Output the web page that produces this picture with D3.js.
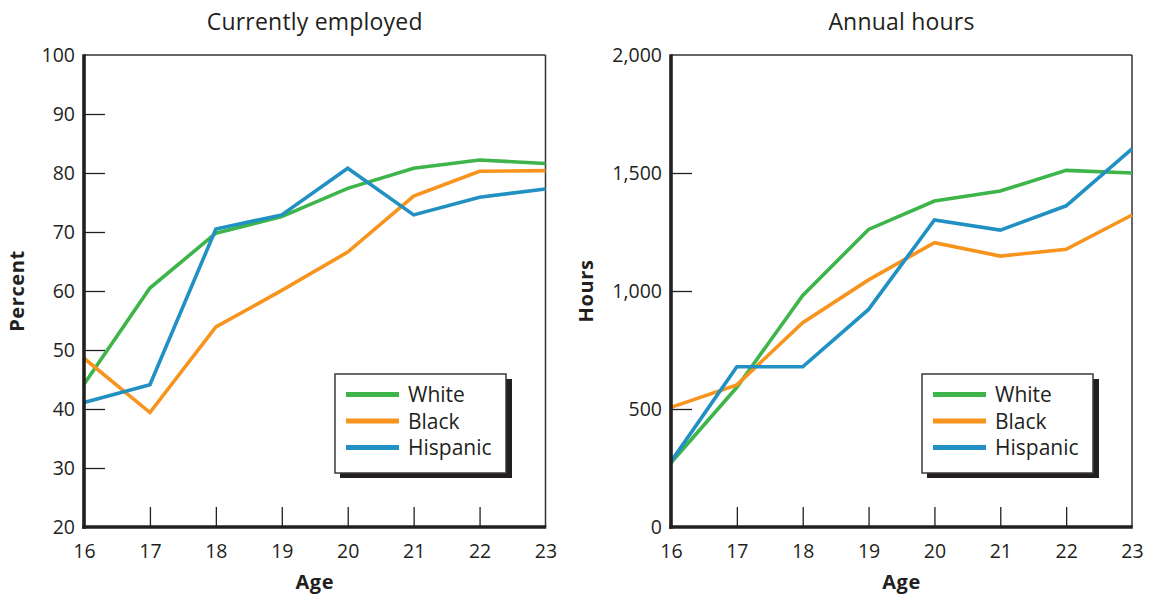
<!DOCTYPE html>
<html>
<head>
<meta charset="utf-8">
<script src="https://cdn.jsdelivr.net/npm/d3@7/dist/d3.min.js"></script>
<style>
  html, body { margin: 0; padding: 0; background: #fff; }
  svg { display: block; }
  text { font-family: "Open Sans", "Noto Sans", sans-serif; fill: #231f20; }
</style>
</head>
<body>
<svg id="chart" width="1151" height="596"></svg>
<script>
// Ages on the horizontal axis
const ages = [16, 17, 18, 19, 20, 21, 22, 23];

// Share currently employed (percent)
const employedWhite    = [44.2, 60.5, 69.8, 72.6, 77.4, 80.8, 82.2, 81.6];
const employedBlack    = [48.6, 39.4, 53.9, 60.1, 66.6, 76.1, 80.3, 80.4];
const employedHispanic = [41.1, 44.1, 70.5, 72.9, 80.8, 72.9, 75.9, 77.3];

// Annual hours worked
const hoursWhite    = [272, 592, 981, 1261, 1381, 1424, 1511, 1500];
const hoursBlack    = [507, 602, 866, 1047, 1205, 1148, 1177, 1322];
const hoursHispanic = [277, 679, 679, 922, 1301, 1258, 1361, 1602];

// Tick values
const percentTicks = [20, 30, 40, 50, 60, 70, 80, 90, 100];
const hoursTicks = [0, 500, 1000, 1500, 2000];

// Series names and colours
const seriesNames = ["White", "Black", "Hispanic"];
const seriesColors = ["#3db54a", "#f7941e", "#2190c2"];

const svg = d3.select("#chart");
const INK = "#231f20";

function drawPanel(opts) {
  const { left, right, top, bottom, title, yLabel, yLabelX, yDomain, yTicks, yFormat, series } = opts;

  const x = d3.scaleLinear().domain([ages[0], ages[ages.length - 1]]).range([left, right]);
  const y = d3.scaleLinear().domain(yDomain).range([bottom, top]);

  const g = svg.append("g");

  // Panel title
  g.append("text")
    .attr("x", (left + right) / 2)
    .attr("y", top - 25)
    .attr("text-anchor", "middle")
    .style("font-size", "23px")
    .style("letter-spacing", "0.2px")
    .text(title);

  // Y axis: ticks pointing inward, labels on the left
  const yAxis = g.append("g")
    .attr("transform", `translate(${left},0)`)
    .call(d3.axisLeft(y).tickValues(yTicks).tickSize(-21).tickPadding(9).tickFormat(yFormat));
  yAxis.select(".domain").remove();
  yAxis.selectAll(".tick line")
    .attr("stroke", INK).attr("stroke-width", 1.3)
    .filter(d => d === yDomain[0] || d === yDomain[1]).remove();
  yAxis.selectAll(".tick text")
    .style("font-size", "19.5px").style("font-family", "'Open Sans', sans-serif").attr("fill", INK);

  // X axis: ticks pointing upward, labels below
  const xAxis = g.append("g")
    .attr("transform", `translate(0,${bottom})`)
    .call(d3.axisBottom(x).tickValues(ages).tickSize(-20).tickPadding(17).tickFormat(d3.format("d")));
  xAxis.select(".domain").remove();
  xAxis.selectAll(".tick line")
    .attr("stroke", INK).attr("stroke-width", 1.3)
    .filter(d => d === ages[0] || d === ages[ages.length - 1]).remove();
  xAxis.selectAll(".tick text")
    .style("font-size", "19.5px").style("font-family", "'Open Sans', sans-serif").attr("fill", INK);

  // Frame: thin top and right, heavy left and bottom
  g.append("line").attr("x1", left).attr("x2", right).attr("y1", top).attr("y2", top)
    .attr("stroke", "#333").attr("stroke-width", 1.5);
  g.append("line").attr("x1", right).attr("x2", right).attr("y1", top).attr("y2", bottom)
    .attr("stroke", "#333").attr("stroke-width", 1.5);

  // Data lines
  const line = d3.line().x((d, i) => x(ages[i])).y(d => y(d));
  series.forEach((vals, i) => {
    g.append("path")
      .datum(vals)
      .attr("d", line)
      .attr("fill", "none")
      .attr("stroke", seriesColors[i])
      .attr("stroke-width", 3.6)
      .attr("stroke-linejoin", "miter");
  });

  g.append("line").attr("x1", left).attr("x2", left).attr("y1", top - 0.75).attr("y2", bottom + 1.8)
    .attr("stroke", INK).attr("stroke-width", 3.6);
  g.append("line").attr("x1", left - 1.8).attr("x2", right + 0.75).attr("y1", bottom).attr("y2", bottom)
    .attr("stroke", INK).attr("stroke-width", 3.6);

  // Axis titles
  g.append("text")
    .attr("x", (left + right) / 2)
    .attr("y", bottom + 62)
    .attr("text-anchor", "middle")
    .style("font-size", "20px").style("font-weight", "bold").style("letter-spacing", "0.6px")
    .text("Age");
  g.append("text")
    .attr("transform", `translate(${yLabelX},${(top + bottom) / 2}) rotate(-90)`)
    .attr("text-anchor", "middle")
    .style("font-size", "20px").style("font-weight", "bold").style("letter-spacing", "0.6px")
    .text(yLabel);

  // Legend with drop shadow
  const lx = left + 251, ly = 374, lw = 171, lh = 99;
  const leg = g.append("g").attr("transform", `translate(${lx},${ly})`);
  leg.append("rect").attr("x", 5).attr("y", 5).attr("width", lw + 1).attr("height", lh)
    .attr("fill", INK);
  leg.append("rect").attr("x", 0).attr("y", 0).attr("width", lw).attr("height", lh)
    .attr("fill", "#fff").attr("stroke", "#3a3a3a").attr("stroke-width", 1.5);
  seriesNames.forEach((name, i) => {
    const yy = 20.5 + i * 26.5;
    leg.append("line").attr("x1", 11).attr("x2", 64).attr("y1", yy).attr("y2", yy)
      .attr("stroke", seriesColors[i]).attr("stroke-width", 5);
    leg.append("text").attr("x", 73).attr("y", yy).attr("dy", "0.36em")
      .style("font-size", "21px").text(name);
  });
}

drawPanel({
  left: 84, right: 545.5, top: 55, bottom: 527,
  title: "Currently employed", yLabel: "Percent", yLabelX: 24,
  yDomain: [20, 100], yTicks: percentTicks, yFormat: d3.format("d"),
  series: [employedWhite, employedBlack, employedHispanic]
});

drawPanel({
  left: 671, right: 1132, top: 55, bottom: 527,
  title: "Annual hours", yLabel: "Hours", yLabelX: 593,
  yDomain: [0, 2000], yTicks: hoursTicks, yFormat: d3.format(","),
  series: [hoursWhite, hoursBlack, hoursHispanic]
});
</script>
</body>
</html>
